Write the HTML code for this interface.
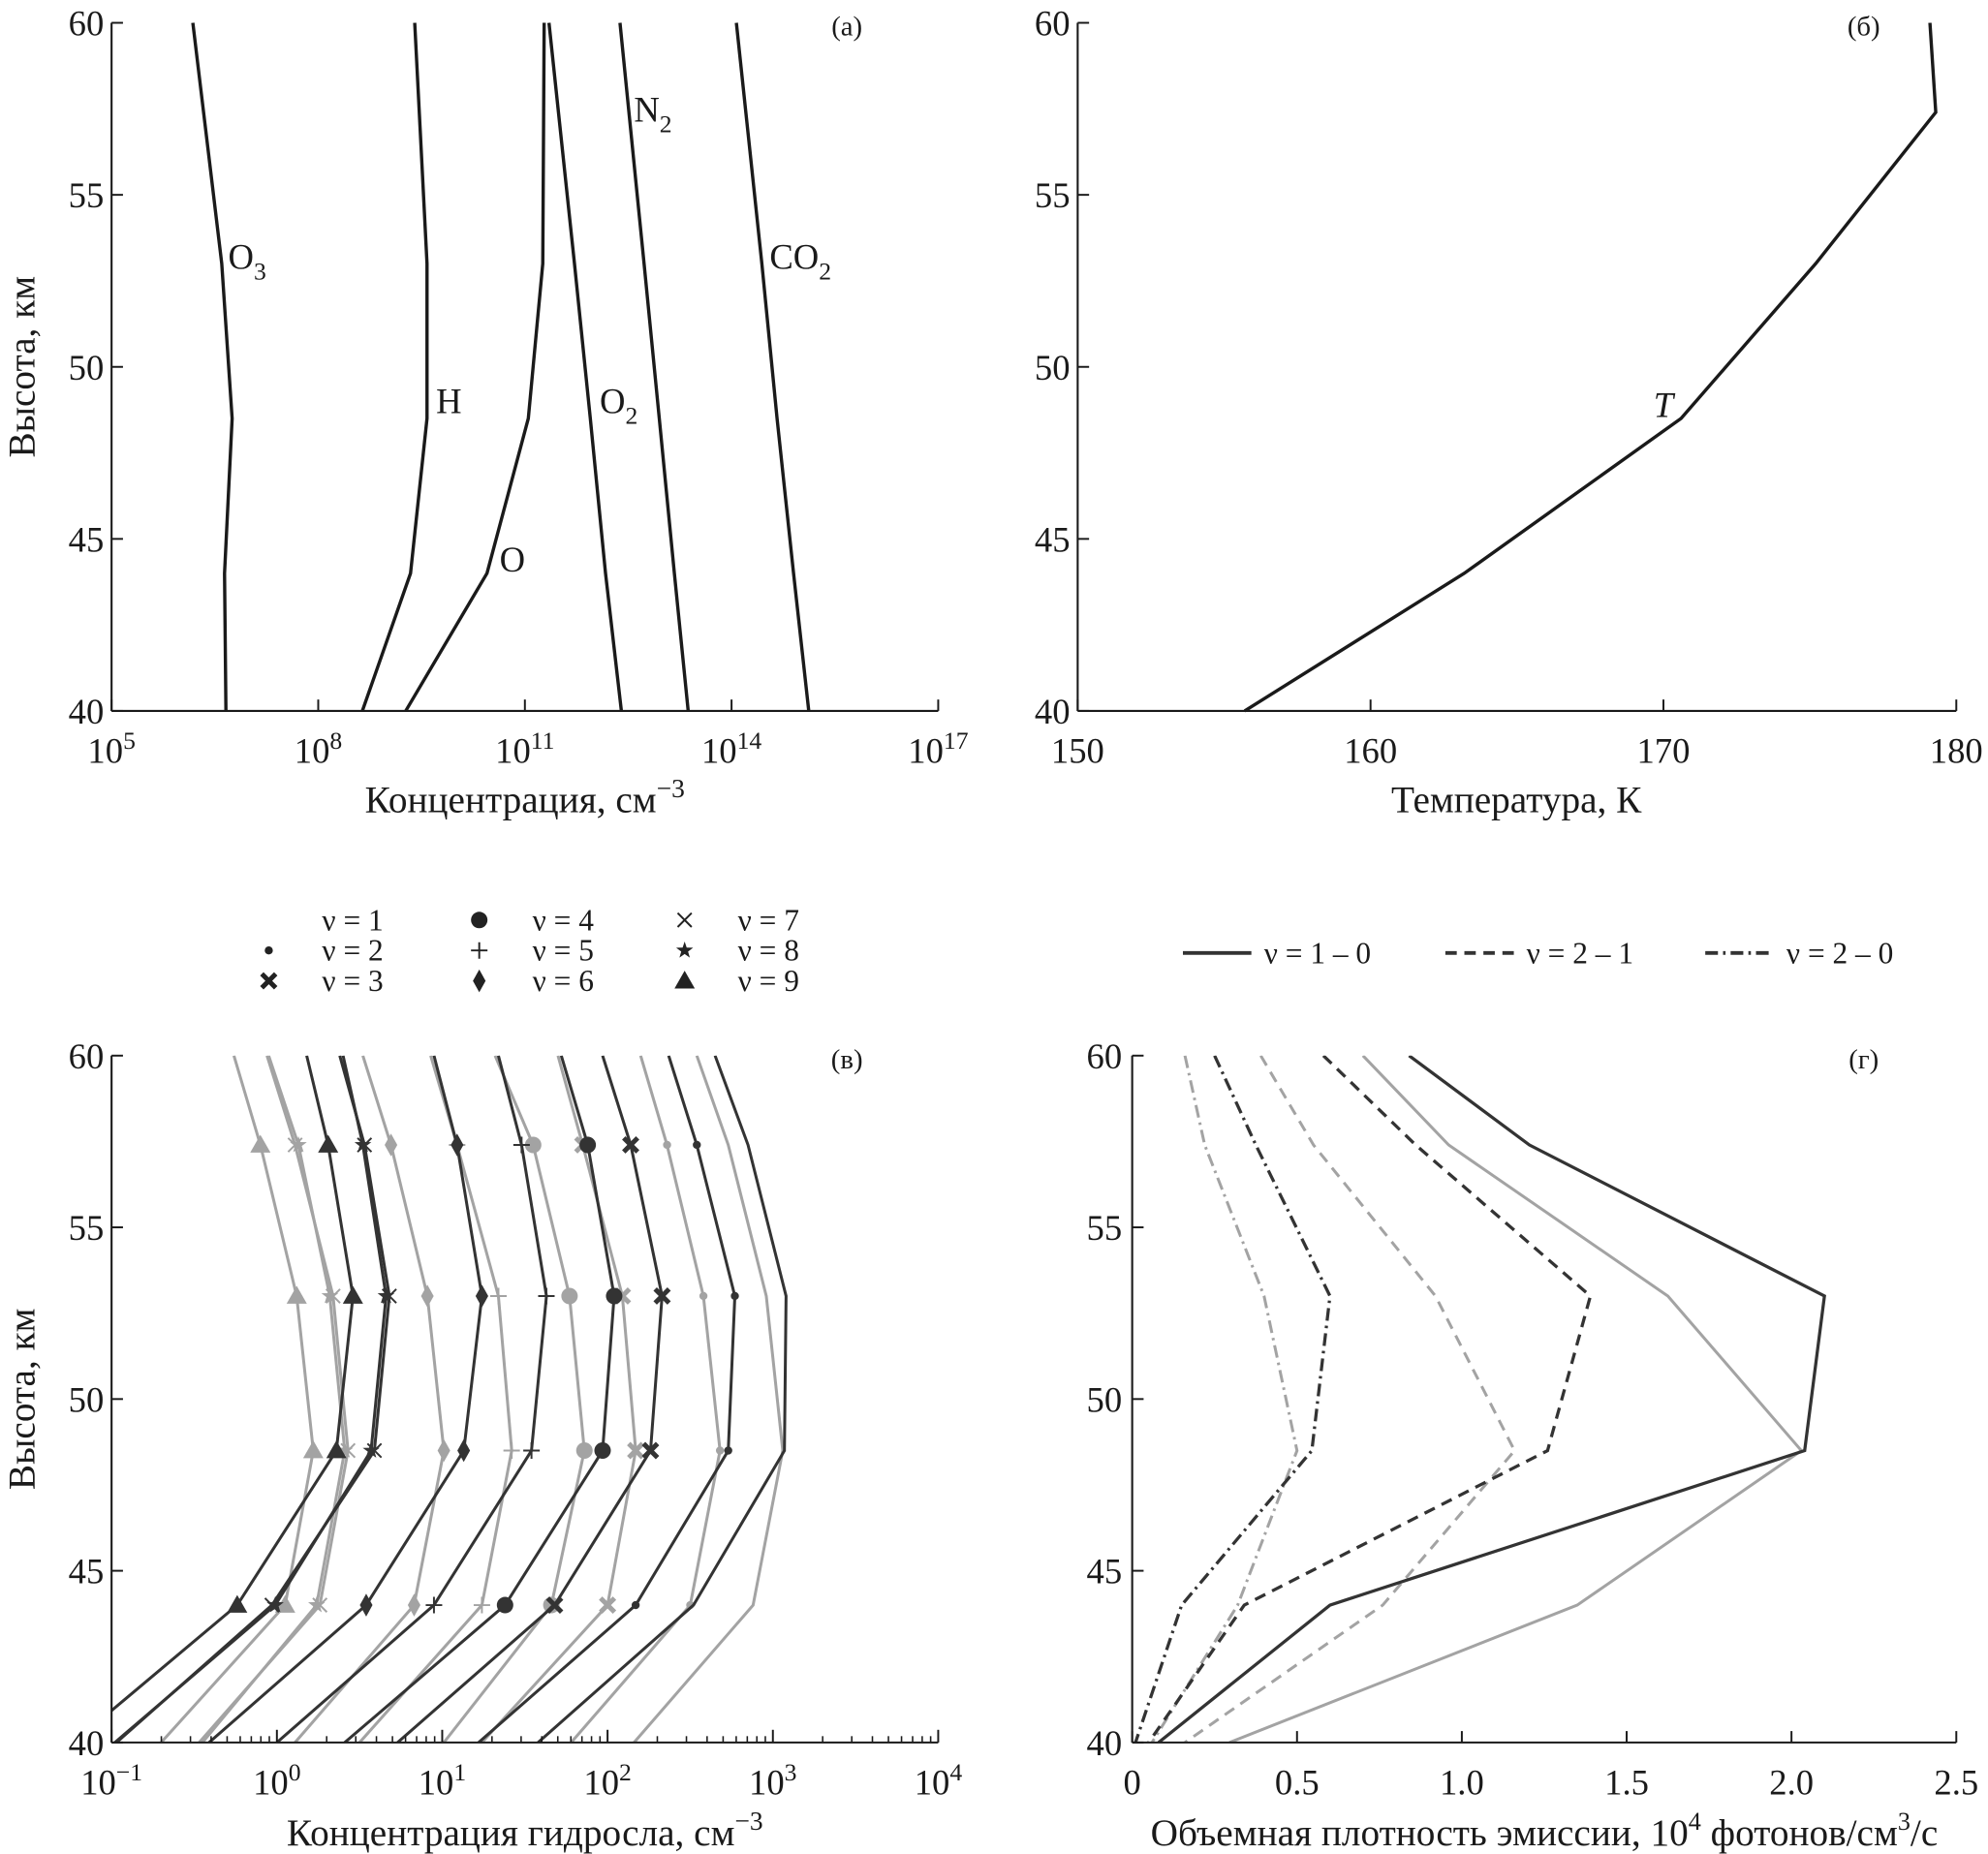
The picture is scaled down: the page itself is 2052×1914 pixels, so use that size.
<!DOCTYPE html>
<html><head><meta charset="utf-8"><style>
html,body{margin:0;padding:0;background:#fff;}
svg{display:block;font-family:"Liberation Serif",serif;}
</style></head><body>
<svg id="fig" xmlns="http://www.w3.org/2000/svg" width="2052" height="1914" viewBox="0 0 1568 1463" preserveAspectRatio="none">
<defs>
<clipPath id="clipC"><rect x="88" y="833" width="652" height="542"/></clipPath>
<clipPath id="clipD"><rect x="893" y="833" width="650" height="542"/></clipPath>
</defs>
</svg>
<script>
// ---------- DATA ----------
// Panel (a): log10 concentration at heights
const heightsA = [60, 53, 48.5, 44, 40];
const aO3  = [6.18, 6.60, 6.75, 6.64, 6.66];
const aH   = [9.40, 9.58, 9.58, 9.34, 8.64];
const aO   = [11.28, 11.26, 11.05, 10.45, 9.27];
const aO2  = [11.35, 11.72, 11.95, 12.17, 12.40];
const aN2  = [12.38, 12.73, 12.95, 13.17, 13.37];
const aCO2 = [14.07, 14.44, 14.66, 14.90, 15.12];
const xTicksA = [5, 8, 11, 14, 17];
const yTicks = [40, 45, 50, 55, 60];
// Panel (b): temperature
const heightsB = [60, 57.4, 53, 48.5, 44, 40];
const tempB = [179.1, 179.3, 175.2, 170.6, 163.2, 155.7];
const xTicksB = [150, 160, 170, 180];
// Panel (c): log10 hydrosol concentration
const heightsC = [60, 57.4, 53, 48.5, 44, 40];
const c1d = [2.65, 2.85, 3.08, 3.07, 2.52, 1.58];
const c2d = [2.37, 2.54, 2.77, 2.73, 2.17, 1.22];
const c3d = [1.97, 2.14, 2.33, 2.26, 1.68, 0.73];
const c4d = [1.72, 1.88, 2.04, 1.97, 1.38, 0.41];
const c5d = [1.34, 1.48, 1.63, 1.54, 0.95, 0.00];
const c6d = [0.95, 1.09, 1.24, 1.13, 0.54, -0.41];
const c7d = [0.38, 0.53, 0.68, 0.59, -0.03, -0.97];
const c8d = [0.40, 0.52, 0.66, 0.57, -0.01, -0.98];
const c9d = [0.18, 0.31, 0.46, 0.36, -0.24, -1.23];
const c1g = [2.54, 2.73, 2.96, 3.06, 2.88, 2.16];
const c2g = [2.20, 2.36, 2.58, 2.68, 2.50, 1.78];
const c3g = [1.70, 1.85, 2.09, 2.17, 2.00, 1.24];
const c4g = [1.32, 1.55, 1.77, 1.86, 1.66, 1.01];
const c5g = [0.93, 1.09, 1.34, 1.42, 1.24, 0.50];
const c6g = [0.52, 0.69, 0.91, 1.01, 0.83, 0.11];
const c7g = [-0.06, 0.11, 0.34, 0.43, 0.26, -0.47];
const c8g = [-0.05, 0.13, 0.32, 0.41, 0.24, -0.45];
const c9g = [-0.26, -0.10, 0.12, 0.22, 0.05, -0.70];
const xTicksC = [-1, 0, 1, 2, 3, 4];
// Panel (d): emission
const heightsD = [60, 57.4, 53, 48.5, 44, 40];
const d10dark = [0.84, 1.205, 2.10, 2.04, 0.60, 0.08];
const d10gray = [0.70, 0.96, 1.625, 2.03, 1.35, 0.295];
const d21dark = [0.58, 0.86, 1.39, 1.26, 0.34, 0.05];
const d21gray = [0.39, 0.55, 0.92, 1.16, 0.76, 0.16];
const d20dark = [0.25, 0.375, 0.60, 0.545, 0.15, 0.01];
const d20gray = [0.16, 0.22, 0.40, 0.50, 0.32, 0.06];
const xTicksD = [0, 0.5, 1.0, 1.5, 2.0, 2.5];
const xTickLabelsD = ["0", "0.5", "1.0", "1.5", "2.0", "2.5"];

// ---------- HELPERS ----------
const NS = "http://www.w3.org/2000/svg";
const svg = document.getElementById('fig');
function mk(tag, attrs, name, parent) {
  const el = document.createElementNS(NS, tag);
  for (const k in attrs) el.setAttribute(k, attrs[k]);
  
  
  (parent || svg).appendChild(el);
  return el;
}
function txt(x, y, s, size, anchor, name, extra) {
  const t = mk('text', Object.assign({x: x, y: y, 'font-size': size, 'text-anchor': anchor || 'middle', fill: '#1a1a1a'}, extra || {}), name);
  t.textContent = s;
  return t;
}
function supText(x, y, base, sup, size, name) {
  const t = mk('text', {x: x, y: y, 'font-size': size, 'text-anchor': 'middle', fill: '#1a1a1a'}, name);
  const a = document.createElementNS(NS, 'tspan'); a.textContent = base; t.appendChild(a);
  const b = document.createElementNS(NS, 'tspan'); b.setAttribute('dy', -size * 0.4); b.setAttribute('font-size', size * 0.7); b.textContent = sup; t.appendChild(b);
  return t;
}
function subText(x, y, base, sub, size, name) {
  const t = mk('text', {x: x, y: y, 'font-size': size, 'text-anchor': 'start', fill: '#1a1a1a'}, name);
  const a = document.createElementNS(NS, 'tspan'); a.textContent = base; t.appendChild(a);
  const b = document.createElementNS(NS, 'tspan'); b.setAttribute('dy', size * 0.3); b.setAttribute('font-size', size * 0.7); b.textContent = sub; t.appendChild(b);
  return t;
}
function lin(d0, d1, r0, r1) { return v => r0 + (v - d0) / (d1 - d0) * (r1 - r0); }
function poly(xs, ys, sx, sy, attrs, name, clip) {
  const pts = xs.map((v, i) => sx(v).toFixed(1) + ',' + sy(ys[i]).toFixed(1)).join(' ');
  const a = Object.assign({points: pts, fill: 'none', 'stroke-linejoin': 'miter'}, attrs);
  if (clip) a['clip-path'] = clip;
  return mk('polyline', a, name);
}
function axes(x0, x1, y0, y1, prefix) {
  mk('line', {x1: x0, y1: y0, x2: x0, y2: y1, stroke: '#1a1a1a', 'stroke-width': 1.6}, prefix + '-y-axis');
  mk('line', {x1: x0, y1: y1, x2: x1, y2: y1, stroke: '#1a1a1a', 'stroke-width': 1.6}, prefix + '-x-axis');
}
function yAxisTicks(x0, sy, prefix) {
  yTicks.forEach(v => {
    mk('line', {x1: x0, y1: sy(v), x2: x0 + 9, y2: sy(v), stroke: '#1a1a1a', 'stroke-width': 1.5}, prefix + '-y-tick');
    txt(x0 - 6, sy(v) + 10, String(v), 28, 'end', prefix + '-y-tick-label');
  });
}

// ---------- PANEL A ----------
(function () {
  const x0 = 88, x1 = 740, y0 = 18, y1 = 561;
  const sx = lin(5, 17, x0, x1), sy = lin(60, 40, y0, y1);
  axes(x0, x1, y0, y1, 'panel-a');
  yAxisTicks(x0, sy, 'panel-a');
  xTicksA.forEach(v => {
    mk('line', {x1: sx(v), y1: y1, x2: sx(v), y2: y1 - 9, stroke: '#1a1a1a', 'stroke-width': 1.5}, 'panel-a-x-tick');
    supText(sx(v), y1 + 41, '10', String(v), 28, 'panel-a-x-tick-label');
  });
  const st = {stroke: '#1a1a1a', 'stroke-width': 2.6};
  poly(aO3, heightsA, sx, sy, st, 'line-o3');
  poly(aH, heightsA, sx, sy, st, 'line-h');
  poly(aO, heightsA, sx, sy, st, 'line-o');
  poly(aO2, heightsA, sx, sy, st, 'line-o2');
  poly(aN2, heightsA, sx, sy, st, 'line-n2');
  poly(aCO2, heightsA, sx, sy, st, 'line-co2');
  subText(180, 212, 'O', '3', 28, 'label-o3');
  txt(344, 326, 'H', 28, 'start', 'label-h');
  txt(394, 451, 'O', 28, 'start', 'label-o');
  subText(473, 326, 'O', '2', 28, 'label-o2');
  subText(500, 96, 'N', '2', 28, 'label-n2');
  subText(607, 212, 'CO', '2', 28, 'label-co2');
  txt(668, 28, '(а)', 22, 'middle', 'panel-a-label');
  supText(414, 641, 'Концентрация, см', '−3', 30, 'panel-a-x-title');
  txt(0, 0, 'Высота, км', 30, 'middle', 'panel-a-y-title', {transform: 'translate(27,' + (y0 + y1) / 2 + ') rotate(-90)'});
})();

// ---------- PANEL B ----------
(function () {
  const x0 = 850, x1 = 1543, y0 = 18, y1 = 561;
  const sx = lin(150, 180, x0, x1), sy = lin(60, 40, y0, y1);
  axes(x0, x1, y0, y1, 'panel-b');
  yAxisTicks(x0, sy, 'panel-b');
  xTicksB.forEach(v => {
    mk('line', {x1: sx(v), y1: y1, x2: sx(v), y2: y1 - 9, stroke: '#1a1a1a', 'stroke-width': 1.5}, 'panel-b-x-tick');
    txt(sx(v), y1 + 41, String(v), 28, 'middle', 'panel-b-x-tick-label');
  });
  poly(tempB, heightsB, sx, sy, {stroke: '#1a1a1a', 'stroke-width': 2.6}, 'line-temperature');
  txt(1312, 329, 'T', 28, 'middle', 'label-t', {'font-style': 'italic'});
  txt(1470, 28, '(б)', 22, 'middle', 'panel-b-label');
  txt(1196, 641, 'Температура, К', 30, 'middle', 'panel-b-x-title');
})();

// ---------- MARKERS ----------
function marker(type, cx, cy, color, name) {
  if (type === 'dot') return mk('circle', {cx: cx, cy: cy, r: 3.2, fill: color}, name);
  if (type === 'circle') return mk('circle', {cx: cx, cy: cy, r: 6.5, fill: color}, name);
  if (type === 'xthick' || type === 'xthin' || type === 'plus') {
    const w = type === 'xthick' ? 3.8 : 1.5, s = type === 'plus' ? 6.5 : 5.5;
    const d = type === 'plus'
      ? `M${cx - s},${cy}L${cx + s},${cy}M${cx},${cy - s}L${cx},${cy + s}`
      : `M${cx - s},${cy - s}L${cx + s},${cy + s}M${cx - s},${cy + s}L${cx + s},${cy - s}`;
    return mk('path', {d: d, stroke: color, 'stroke-width': w, fill: 'none'}, name);
  }
  if (type === 'diamond') return mk('polygon', {points: `${cx},${cy - 9} ${cx + 5},${cy} ${cx},${cy + 9} ${cx - 5},${cy}`, fill: color}, name);
  if (type === 'tri') return mk('polygon', {points: `${cx},${cy - 8} ${cx + 8},${cy + 6} ${cx - 8},${cy + 6}`, fill: color}, name);
  if (type === 'star') {
    let p = [];
    for (let i = 0; i < 10; i++) {
      const r = i % 2 ? 2.8 : 7, a = -Math.PI / 2 + i * Math.PI / 5;
      p.push((cx + r * Math.cos(a)).toFixed(1) + ',' + (cy + r * Math.sin(a)).toFixed(1));
    }
    return mk('polygon', {points: p.join(' '), fill: color}, name);
  }
}

// ---------- PANEL C ----------
(function () {
  const x0 = 88, x1 = 740, y0 = 833, y1 = 1375;
  const sx = lin(-1, 4, x0, x1), sy = lin(60, 40, y0, y1);
  const dark = '#333333', gray = '#a3a3a3';
  const series = [
    [c1g, gray, null, 1], [c2g, gray, 'dot', 2], [c3g, gray, 'xthick', 3], [c4g, gray, 'circle', 4], [c5g, gray, 'plus', 5],
    [c6g, gray, 'diamond', 6], [c7g, gray, 'xthin', 7], [c8g, gray, 'star', 8], [c9g, gray, 'tri', 9],
    [c1d, dark, null, 1], [c2d, dark, 'dot', 2], [c3d, dark, 'xthick', 3], [c4d, dark, 'circle', 4], [c5d, dark, 'plus', 5],
    [c6d, dark, 'diamond', 6], [c7d, dark, 'xthin', 7], [c8d, dark, 'star', 8], [c9d, dark, 'tri', 9]
  ];
  series.forEach(s => {
    poly(s[0], heightsC, sx, sy, {stroke: s[1], 'stroke-width': 2.3}, 'hydrosol-line-v' + s[3], 'url(#clipC)');
    if (s[2]) for (let i = 1; i <= 4; i++) marker(s[2], sx(s[0][i]), sy(heightsC[i]), s[1], 'hydrosol-marker-v' + s[3]);
  });
  axes(x0, x1, y0, y1, 'panel-c');
  yAxisTicks(x0, sy, 'panel-c');
  xTicksC.forEach(v => {
    mk('line', {x1: sx(v), y1: y1, x2: sx(v), y2: y1 - 10, stroke: '#1a1a1a', 'stroke-width': 1.5}, 'panel-c-x-tick');
    supText(sx(v), y1 + 41, '10', v < 0 ? '−' + (-v) : String(v), 28, 'panel-c-x-tick-label');
    if (v < 4) for (let m = 2; m <= 9; m++) {
      const xm = sx(v + Math.log10(m));
      mk('line', {x1: xm, y1: y1, x2: xm, y2: y1 - 5, stroke: '#1a1a1a', 'stroke-width': 1.2}, 'panel-c-minor-tick');
    }
  });
  txt(668, 843, '(в)', 22, 'middle', 'panel-c-label');
  supText(414, 1456, 'Концентрация гидросла, см', '−3', 30, 'panel-c-x-title');
  txt(0, 0, 'Высота, км', 30, 'middle', 'panel-c-y-title', {transform: 'translate(27,' + (y0 + y1) / 2 + ') rotate(-90)'});
  // legend
  const legTypes = [null, 'dot', 'xthick', 'circle', 'plus', 'diamond', 'xthin', 'star', 'tri'];
  const colX = [212, 378, 540], rowY = [726, 750, 774];
  legTypes.forEach((t, i) => {
    const c = Math.floor(i / 3), r = i % 3;
    if (t) marker(t, colX[c], rowY[r], '#222', 'legend-marker-v' + (i + 1));
    txt(colX[c] + 42, rowY[r] + 8, 'ν = ' + (i + 1), 24, 'start', 'legend-label-v' + (i + 1));
  });
})();

// ---------- PANEL D ----------
(function () {
  const x0 = 893, x1 = 1543, y0 = 833, y1 = 1375;
  const sx = lin(0, 2.5, x0, x1), sy = lin(60, 40, y0, y1);
  const dark = '#333333', gray = '#a3a3a3';
  const dash = '9,6', dd = '10,4,2,4';
  poly(d10gray, heightsD, sx, sy, {stroke: gray, 'stroke-width': 2.3}, 'emission-1-0-gray', 'url(#clipD)');
  poly(d21gray, heightsD, sx, sy, {stroke: gray, 'stroke-width': 2.3, 'stroke-dasharray': dash}, 'emission-2-1-gray', 'url(#clipD)');
  poly(d20gray, heightsD, sx, sy, {stroke: gray, 'stroke-width': 2.3, 'stroke-dasharray': dd}, 'emission-2-0-gray', 'url(#clipD)');
  poly(d10dark, heightsD, sx, sy, {stroke: dark, 'stroke-width': 2.5}, 'emission-1-0-dark', 'url(#clipD)');
  poly(d21dark, heightsD, sx, sy, {stroke: dark, 'stroke-width': 2.5, 'stroke-dasharray': dash}, 'emission-2-1-dark', 'url(#clipD)');
  poly(d20dark, heightsD, sx, sy, {stroke: dark, 'stroke-width': 2.5, 'stroke-dasharray': dd}, 'emission-2-0-dark', 'url(#clipD)');
  axes(x0, x1, y0, y1, 'panel-d');
  yTicks.forEach(v => {
    mk('line', {x1: x0, y1: sy(v), x2: x0 + 9, y2: sy(v), stroke: '#1a1a1a', 'stroke-width': 1.5}, 'panel-d-y-tick');
    txt(x0 - 8, sy(v) + 10, String(v), 28, 'end', 'panel-d-y-tick-label');
  });
  xTicksD.forEach((v, i) => {
    mk('line', {x1: sx(v), y1: y1, x2: sx(v), y2: y1 - 9, stroke: '#1a1a1a', 'stroke-width': 1.5}, 'panel-d-x-tick');
    txt(sx(v), y1 + 41, xTickLabelsD[i], 28, 'middle', 'panel-d-x-tick-label');
  });
  txt(1470, 843, '(г)', 22, 'middle', 'panel-d-label');
  const t = mk('text', {x: 1218, y: 1456, 'font-size': 30, 'text-anchor': 'middle', fill: '#1a1a1a'}, 'panel-d-x-title');
  t.innerHTML = 'Объемная плотность эмиссии, 10<tspan dy="-12" font-size="20">4</tspan><tspan dy="12"> фотонов/см</tspan><tspan dy="-12" font-size="20">3</tspan><tspan dy="12">/с</tspan>';
  // legend
  const legs = [['ν = 1 – 0', null, 933], ['ν = 2 – 1', dash, 1140], ['ν = 2 – 0', dd, 1345]];
  legs.forEach((l, i) => {
    const a = {x1: l[2], y1: 752, x2: l[2] + 54, y2: 752, stroke: dark, 'stroke-width': 3};
    if (l[1]) a['stroke-dasharray'] = l[1];
    mk('line', a, 'legend-line-' + i);
    txt(l[2] + 64, 760, l[0], 24, 'start', 'legend-text-' + i);
  });
})();
</script>
</body></html>
